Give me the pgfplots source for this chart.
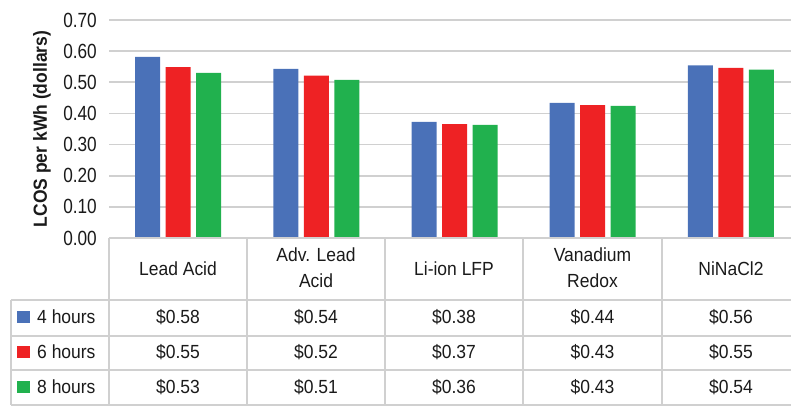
\documentclass[border=0pt]{standalone}
\usepackage{pgfplots}
\pgfplotsset{compat=1.18}
\usepackage{fontspec}
\setmainfont{Liberation Sans}[FakeStretch=0.92]
\newfontfamily\tickfont{Liberation Sans}[FakeStretch=0.84]
\definecolor{cb}{HTML}{4A71B8}
\definecolor{cr}{HTML}{EE2224}
\definecolor{cg}{HTML}{21B14E}
\definecolor{gl}{HTML}{D0D0D0}
\definecolor{tx}{HTML}{1A1A1A}
\newcommand{\tf}{\fontsize{19}{20}\selectfont}
\begin{document}
\begin{tikzpicture}[x=1pt,y=1pt]
\path[use as bounding box] (0,0) rectangle (791,407);
\begin{axis}[
  at={(109pt,169pt)}, anchor=south west,
  scale only axis, width=691pt, height=218pt,
  xmin=-0.5, xmax=4.5, ymin=0, ymax=0.7,
  ybar=5.5pt, bar width=25pt,
  xtick=\empty,
  ytick={0,0.1,0.2,0.3,0.4,0.5,0.6,0.7},
  ymajorgrids, grid style={gl, line width=1.6pt},
  axis line style={draw=none}, major tick length=0pt,
  /pgf/number format/assume math mode=true,
  yticklabel style={/pgf/number format/.cd, fixed, fixed zerofill, precision=2, /tikz/.cd, inner sep=0pt, xshift=-12pt, font=\tickfont\fontsize{20.5}{22}\selectfont, text=tx},
  ylabel={LCOS per kWh (dollars)},
  ylabel style={at={(axis description cs:-0.097,0.5)}, anchor=center, font=\bfseries\tf, text=tx},
  clip=false,
]
\addplot[fill=cb, draw=none] coordinates {(0,0.582) (1,0.543) (2,0.3725) (3,0.4335) (4,0.554)};
\addplot[fill=cr, draw=none] coordinates {(0,0.549) (1,0.521) (2,0.366) (3,0.427) (4,0.546)};
\addplot[fill=cg, draw=none] coordinates {(0,0.530) (1,0.508) (2,0.363) (3,0.424) (4,0.541)};
\end{axis}
% table (pixel coords: y = 407 - p)
\begin{scope}[gl, line width=1.6pt]
  \draw (109,407-238) -- (800,407-238);
  \foreach \p in {300,336,370,405} {\draw (11,407-\p) -- (800,407-\p);}
  \draw (11,407-300) -- (11,407-405);
  \foreach \x in {109,247,385,523,662} {\draw (\x,407-238) -- (\x,407-405);}
\end{scope}
\begin{scope}[every node/.style={font=\tf, text=tx, anchor=base, inner sep=0pt}]
  \node at (178,407-275) {Lead Acid};
  \node at (316,407-261) {Adv. Lead};
  \node at (316,407-287) {Acid};
  \node at (454,407-275) {Li-ion LFP};
  \node at (592.5,407-261) {Vanadium};
  \node at (592.5,407-287) {Redox};
  \node at (731,407-275) {NiNaCl2};
  % rows
  \node[anchor=base west] at (37,407-323) {4 hours};
  \node[anchor=base west] at (37,407-358) {6 hours};
  \node[anchor=base west] at (37,407-393) {8 hours};
  \node at (178,407-323) {\$0.58};
  \node at (316,407-323) {\$0.54};
  \node at (454,407-323) {\$0.38};
  \node at (592.5,407-323) {\$0.44};
  \node at (731,407-323) {\$0.56};
  \node at (178,407-358) {\$0.55};
  \node at (316,407-358) {\$0.52};
  \node at (454,407-358) {\$0.37};
  \node at (592.5,407-358) {\$0.43};
  \node at (731,407-358) {\$0.55};
  \node at (178,407-393) {\$0.53};
  \node at (316,407-393) {\$0.51};
  \node at (454,407-393) {\$0.36};
  \node at (592.5,407-393) {\$0.43};
  \node at (731,407-393) {\$0.54};
\end{scope}
\fill[cb] (17,407-323) rectangle (30,407-311);
\fill[cr] (17,407-358) rectangle (30,407-346);
\fill[cg] (17,407-393) rectangle (30,407-381);
\end{tikzpicture}
\end{document}
